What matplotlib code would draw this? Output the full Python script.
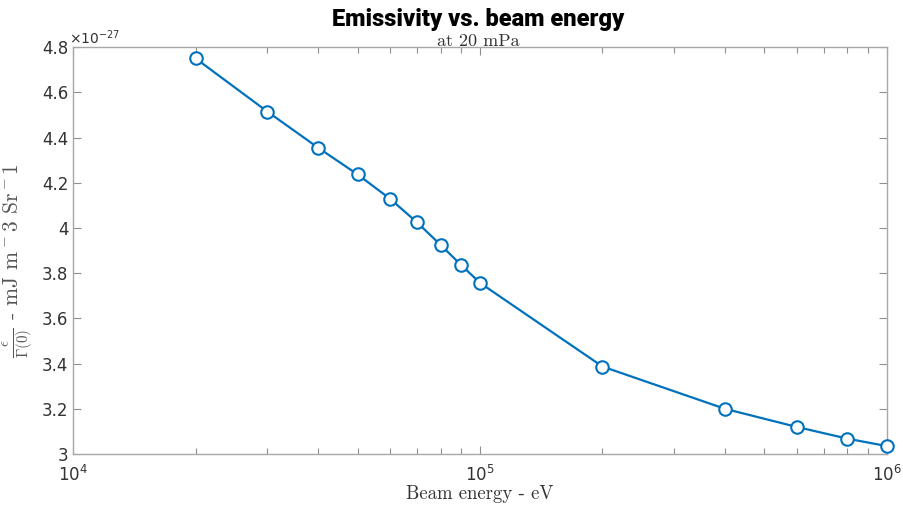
import math
import matplotlib
matplotlib.use("Agg")
import matplotlib.pyplot as plt
from matplotlib.ticker import FixedLocator, LogLocator, NullFormatter, FuncFormatter

plt.rcParams['mathtext.fontset'] = 'dejavusans'
plt.rcParams['axes.unicode_minus'] = False

beam_energy = [2e4, 3e4, 4e4, 5e4, 6e4, 7e4, 8e4, 9e4, 1e5, 2e5, 4e5, 6e5, 8e5, 1e6]
emissivity = [4.75, 4.515, 4.355, 4.237, 4.13, 4.025, 3.925, 3.835, 3.757, 3.387, 3.2, 3.12, 3.068, 3.035]  # x 1e-27
y_ticks = [3, 3.2, 3.4, 3.6, 3.8, 4, 4.2, 4.4, 4.6, 4.8]
x_ticks = [1e4, 1e5, 1e6]

fig = plt.figure(figsize=(9.04, 5.07), dpi=100)
ax = fig.add_axes([0.081, 0.1045, 0.9, 0.8025])

blue = '#0072BD'
ax.plot(beam_energy, emissivity, '-o', color=blue, lw=1.6, markersize=9,
        markerfacecolor='white', markeredgecolor=blue, markeredgewidth=1.5, clip_on=False, zorder=3)

ax.set_xscale('log')
ax.set_xlim(1e4, 1e6)
ax.set_ylim(3, 4.8)
ax.xaxis.set_major_locator(FixedLocator(x_ticks))
ax.xaxis.set_minor_locator(LogLocator(base=10, subs=range(2, 10)))
ax.xaxis.set_minor_formatter(NullFormatter())
ax.xaxis.set_major_formatter(FuncFormatter(lambda v, p: r'$10^{%d}$' % round(math.log10(v))))
ax.yaxis.set_major_locator(FixedLocator(y_ticks))
ax.yaxis.set_major_formatter(FuncFormatter(lambda v, p: ('%g' % round(v, 2))))

gray = '#a8a8a8'
for s in ax.spines.values():
    s.set_color(gray)
    s.set_linewidth(1.0)
txtc = '#333333'
ax.tick_params(which='both', direction='in', top=True, right=True, color='#909090', labelcolor=txtc, labelsize=12)
ax.tick_params(which='major', length=6, width=0.8)
ax.tick_params(which='minor', length=4, width=0.8)
ax.tick_params(axis='x', pad=8)

ax.text(-0.005, 1.0, r'$\times 10^{-27}$', transform=ax.transAxes, ha='left', va='bottom',
        fontsize=10, color=txtc)

fig.text(0.529, 0.962, 'Emissivity vs. beam energy', ha='center', va='center',
         fontsize=17, fontweight='heavy', family='Roboto', color='black')
fig.text(0.529, 0.918, 'at 20 mPa', ha='center', va='center',
         fontsize=13, color=txtc, family='cmr10')

ax.set_xlabel('Beam energy - eV', fontsize=13.5, color=txtc, labelpad=0, family='cmr10')
ax.set_ylabel(r'$\frac{\epsilon}{\Gamma(0)}$ - mJ m$^-$3 Sr$^-$1', fontsize=15.5, color='#555555',
              family='cmr10', math_fontfamily='cm')
ax.yaxis.set_label_coords(-0.047, 0.475)

fig.savefig('out.png', dpi=100, facecolor='white')
